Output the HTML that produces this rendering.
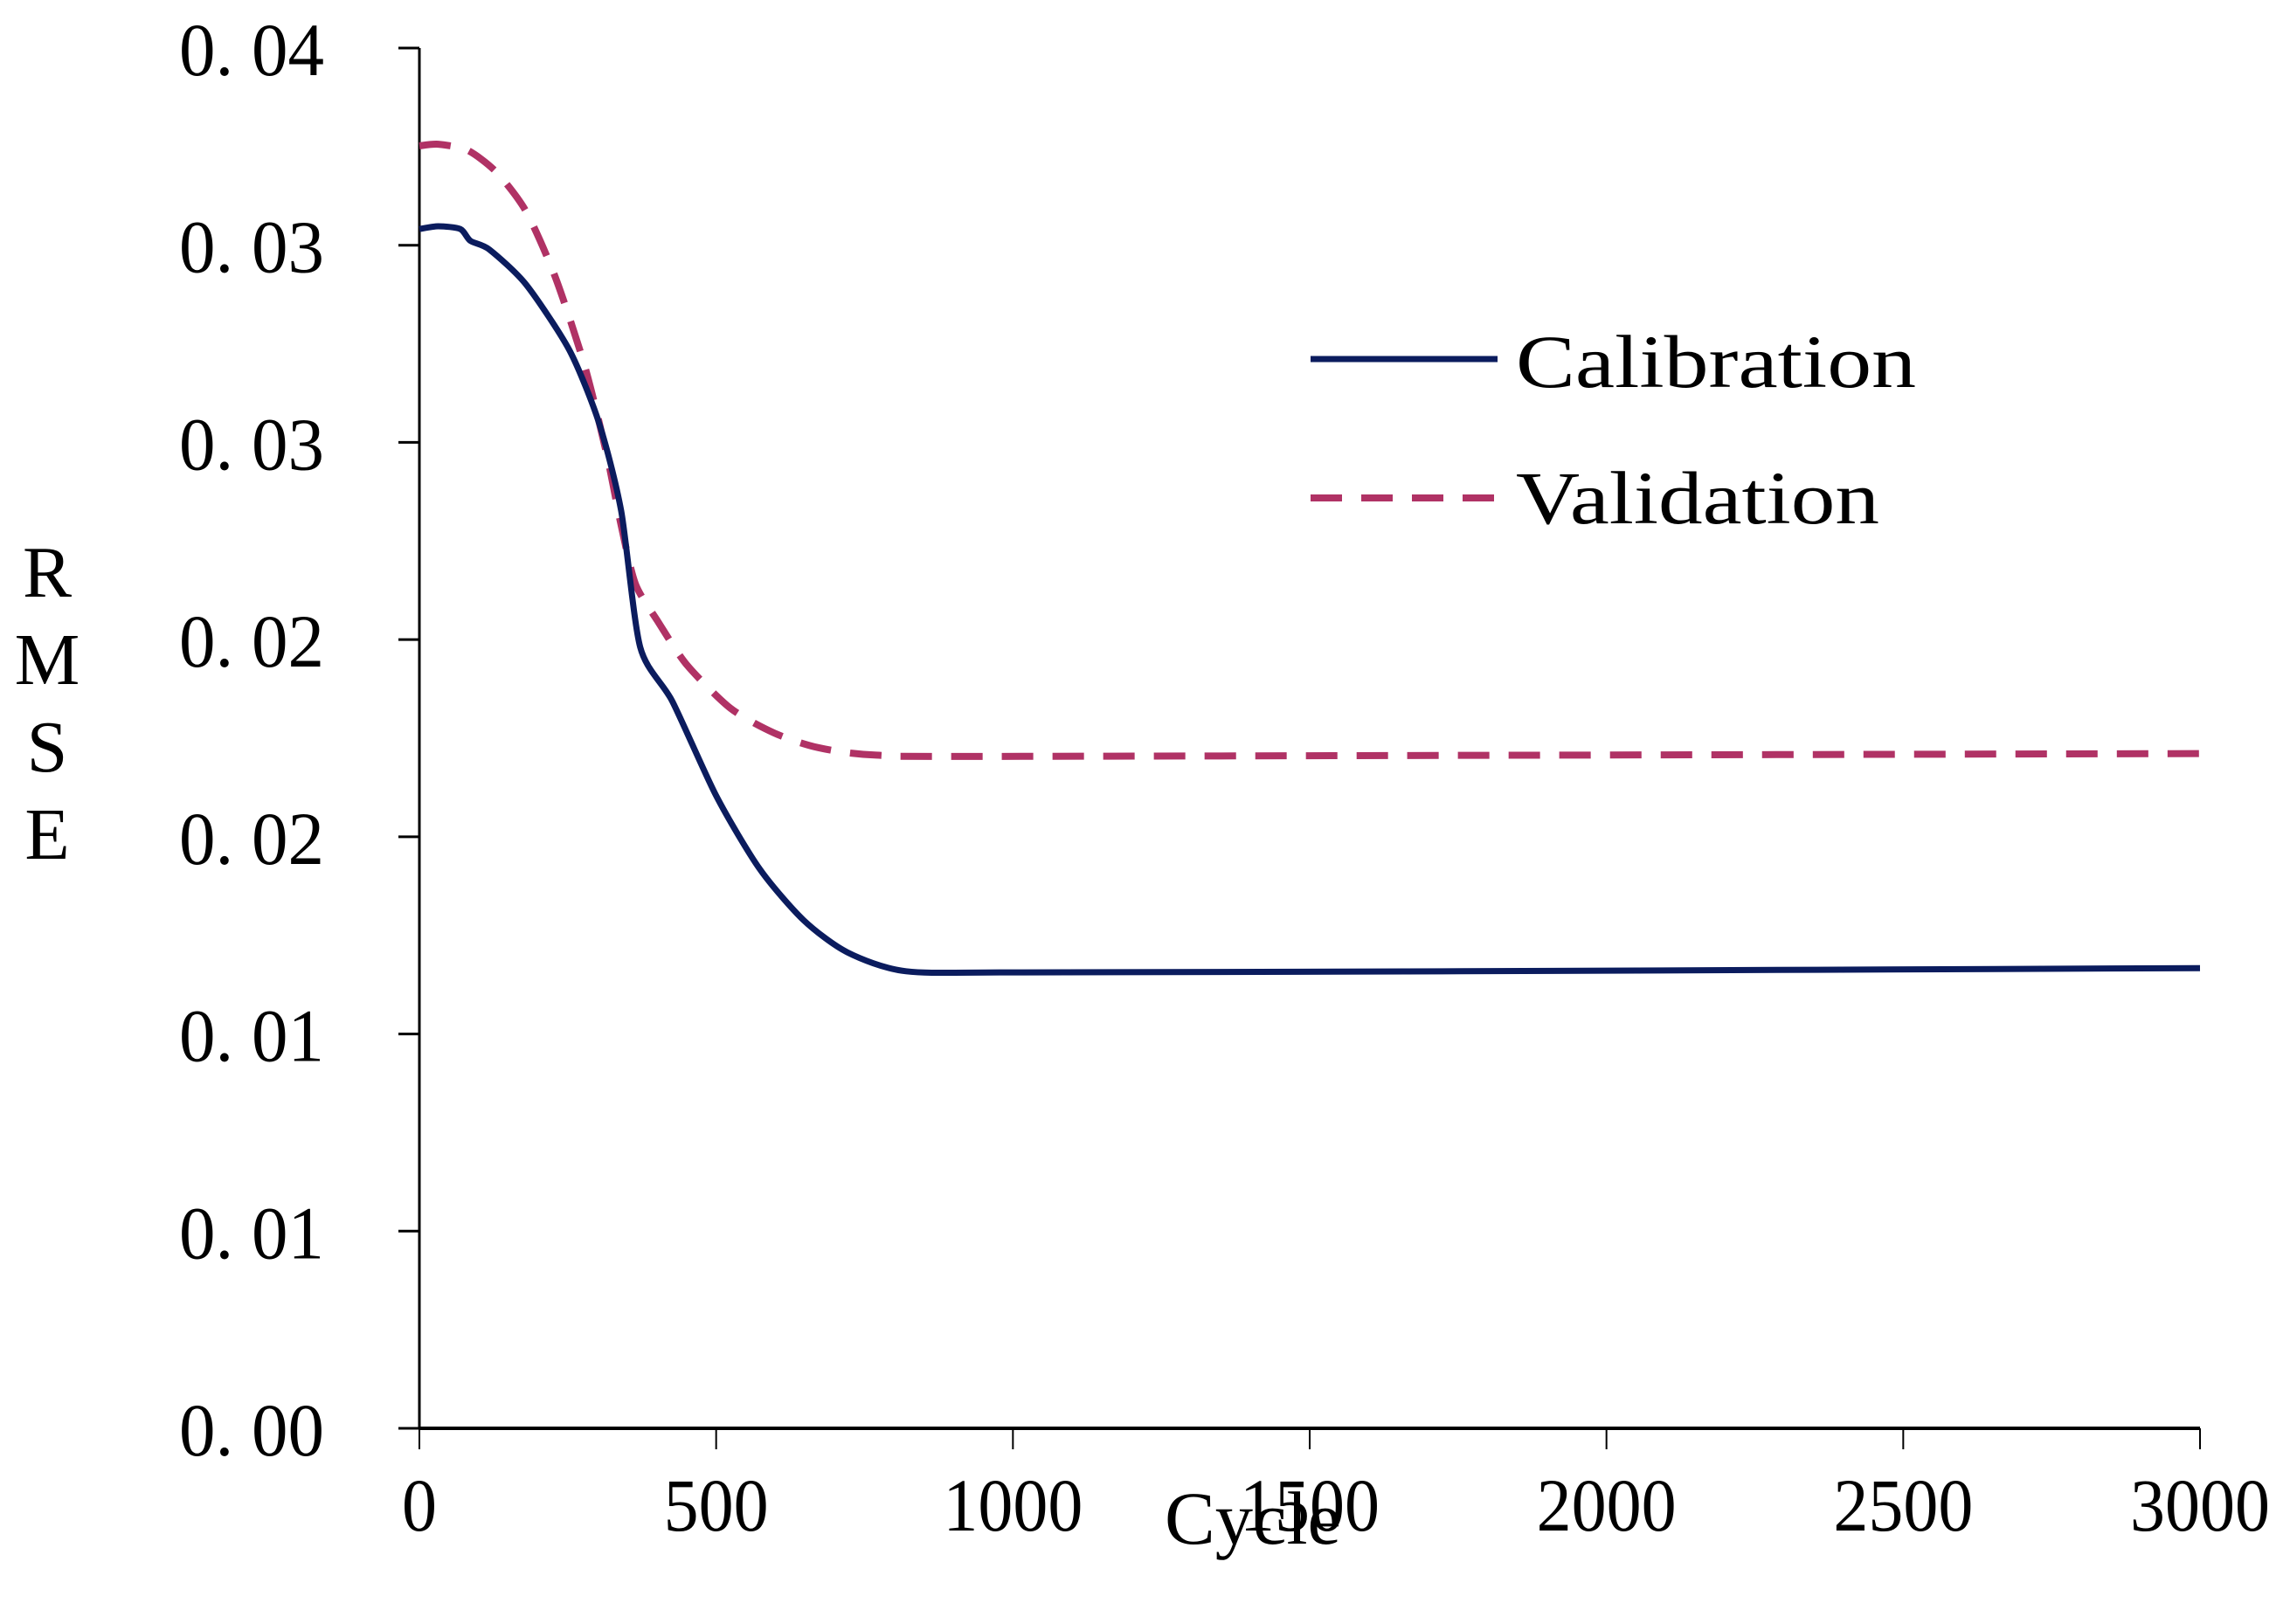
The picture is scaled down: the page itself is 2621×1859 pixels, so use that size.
<!DOCTYPE html>
<html><head><meta charset="utf-8"><style>
html,body{margin:0;padding:0;background:#fff;}
svg text{font-family:"Liberation Serif","Noto Serif CJK SC",serif;fill:#000;}
</style></head><body>
<svg id="chart" width="2621" height="1854" viewBox="0 0 2621 1854" xmlns="http://www.w3.org/2000/svg">
<g id="axes"></g>
<g id="series"></g>
<g>
  <line x1="1500" y1="411" x2="1714" y2="411" stroke="#0b1c5e" stroke-width="7"/>
  <text x="1735" y="443" font-size="86" textLength="458" lengthAdjust="spacingAndGlyphs">Calibration</text>
  <line x1="1500" y1="570" x2="1714" y2="570" stroke="#b03265" stroke-width="8" stroke-dasharray="36,22"/>
  <text x="1735" y="599" font-size="86" textLength="416" lengthAdjust="spacingAndGlyphs">Validation</text>
</g>
<g font-size="84">
  <text x="54" y="683" text-anchor="middle">R</text>
  <text x="54" y="783" text-anchor="middle">M</text>
  <text x="54" y="883" text-anchor="middle">S</text>
  <text x="54" y="983" text-anchor="middle">E</text>
</g>
<text x="1333" y="1767" font-size="86" textLength="202" lengthAdjust="spacingAndGlyphs">Cycle</text>
</svg>
<script>
const yTicks=[0,0.005,0.01,0.015,0.02,0.025,0.03,0.035,0.04];
const yTickLabels=["0. 00","0. 01","0. 01","0. 02","0. 02","0. 03","0. 03","0. 04"];
const xTicks=[0,500,1000,1500,2000,2500,3000];
const calCycles=[0,32,69,86,118,180,253,303,340,372,426,500,573,647,721,820,1016,1755,3000];
const calValues=[0.03041,0.03048,0.03041,0.03011,0.02989,0.029,0.02733,0.02548,0.02326,0.01981,0.01844,0.01604,0.01419,0.01289,0.01207,0.01159,0.01156,0.01159,0.01167];
const valCycles=[0,32,81,130,180,229,278,315,340,364,401,450,524,598,672,770,1016,3000];
const valValues=[0.03252,0.03256,0.03241,0.03185,0.03085,0.02919,0.02696,0.02474,0.02289,0.02141,0.02048,0.01937,0.01826,0.01763,0.01726,0.01707,0.01704,0.01711];
const X0=480,X1=2518,Y0=1635,Y1=55;
function sx(v){return X0+(v-0)/(3000-0)*(X1-X0);}
function sy(v){return Y0-(v-0)/(0.035-0)*(Y0-Y1);}
const NS="http://www.w3.org/2000/svg";
const axes=document.getElementById('axes');
const series=document.getElementById('series');
function mk(tag,attrs,parent){const e=document.createElementNS(NS,tag);for(const k in attrs)e.setAttribute(k,attrs[k]);parent.appendChild(e);return e;}
const ya=mk('line',{x1:X0,y1:Y1,x2:X0,y2:Y0,stroke:'#000','stroke-width':3},axes);


const xa=mk('line',{x1:X0,y1:Y0,x2:X1,y2:Y0,stroke:'#000','stroke-width':4},axes);


for(let i=0;i<yTickLabels.length;i++){
  const v=yTicks[i];
  const t=mk('line',{x1:X0-24,y1:sy(v),x2:X0,y2:sy(v),stroke:'#000','stroke-width':3},axes);
  
  
  const l=mk('text',{x:205,y:sy(v)+31,'font-size':86,textLength:166,lengthAdjust:'spacingAndGlyphs'},axes);
  l.textContent=yTickLabels[i];
  
  
}
for(const v of xTicks){
  const t=mk('line',{x1:sx(v),y1:Y0,x2:sx(v),y2:Y0+24,stroke:'#000','stroke-width':2},axes);
  
  
  const s=String(v);
  const w=s.length*40;
  const l=mk('text',{x:sx(v)-w/2,y:1752,'font-size':86,textLength:w,lengthAdjust:'spacingAndGlyphs'},axes);
  l.textContent=s;
  
  
}
function pathD(cs,vs){
  const p=cs.map((c,i)=>[sx(c),sy(vs[i])]);
  let d='M'+p[0][0].toFixed(1)+','+p[0][1].toFixed(1);
  for(let i=0;i<p.length-1;i++){
    const a=p[Math.max(0,i-1)],b=p[i],c=p[i+1],e=p[Math.min(p.length-1,i+2)];
    const c1=[b[0]+(c[0]-a[0])/8,b[1]+(c[1]-a[1])/8];
    const c2=[c[0]-(e[0]-b[0])/8,c[1]-(e[1]-b[1])/8];
    d+=' C'+c1[0].toFixed(1)+','+c1[1].toFixed(1)+' '+c2[0].toFixed(1)+','+c2[1].toFixed(1)+' '+c[0].toFixed(1)+','+c[1].toFixed(1);
  }
  return d;
}
const vl=mk('path',{d:pathD(valCycles,valValues),fill:'none',stroke:'#b03265','stroke-width':8,'stroke-dasharray':'36,22','stroke-linejoin':'round'},series);


const cl=mk('path',{d:pathD(calCycles,calValues),fill:'none',stroke:'#0b1c5e','stroke-width':7,'stroke-linejoin':'round'},series);


</script>
</body></html>
